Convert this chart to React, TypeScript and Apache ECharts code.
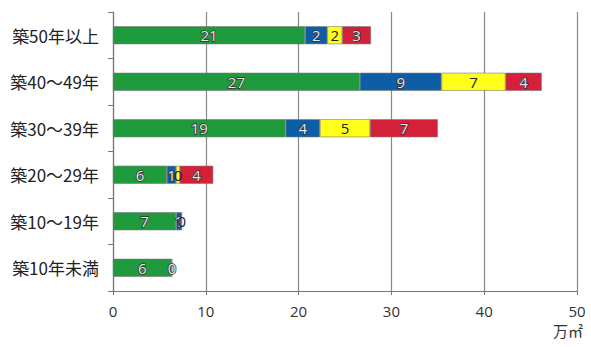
import React, { useEffect, useRef } from "react";
import * as echarts from "echarts";

const categories = ["築50年以上", "築40～49年", "築30～39年", "築20～29年", "築10～19年", "築10年未満"];
const green = [20.7, 26.6, 18.6, 5.8, 6.8, 6.3];
const blue = [2.4, 8.8, 3.7, 1.0, 0.6, 0.1];
const yellow = [1.6, 6.9, 5.4, 0.4, 0, null];
const red = [3.1, 3.9, 7.3, 3.6, null, null];
const unit = "万㎡";

export default function App() {
  const ref = useRef<HTMLDivElement>(null);
  useEffect(() => {
    const chart = echarts.init(ref.current!, null, { renderer: "svg" });
    const lightLabel = {
      show: true,
      position: "inside",
      fontSize: 15,
      fontFamily: "Open Sans",
      color: "#e6e6e6",
      textBorderColor: "#333",
      textBorderWidth: 1.5,
      formatter: (p: any) => String(Math.round(p.value)),
    };
    const darkLabel = { ...lightLabel, color: "#222", textBorderWidth: 0 };
    const mk = (name: string, data: any[], color: string, label: any) => ({
      name,
      type: "bar",
      stack: "a",
      data,
      barWidth: 18,
      itemStyle: { color, borderColor: "#777", borderWidth: 0.6 },
      label,
    });
    chart.setOption({
      animation: false,
      grid: { left: 113, right: 14, top: 12, bottom: 56 },
      xAxis: {
        type: "value",
        min: 0,
        max: 50,
        interval: 10,
        axisLine: { show: true, lineStyle: { color: "#777", width: 1.2 } },
        axisTick: { show: true, length: 4, lineStyle: { color: "#777" } },
        splitLine: { show: true, lineStyle: { color: "#888", width: 1.2 } },
        axisLabel: {
          fontSize: 15,
          color: "#333",
          fontFamily: "Open Sans",
          margin: 12,
        },
      },
      yAxis: {
        type: "category",
        inverse: true,
        data: categories,
        axisLine: { show: true, lineStyle: { color: "#777", width: 1.2 } },
        axisTick: { show: true, length: 5, lineStyle: { color: "#777" } },
        axisLabel: {
          fontSize: 17,
          color: "#222",
          fontFamily: "Noto Sans CJK JP",
          margin: 14,
        },
      },
      graphic: [
        {
          type: "text",
          left: 553,
          top: 323,
          style: { text: unit, fontSize: 15, fill: "#333", fontFamily: "Noto Sans CJK JP" },
        },
      ],
      series: [
        mk("緑", green, "#1f9a3c", lightLabel),
        mk("青", blue, "#0d5ea6", lightLabel),
        mk("黄", yellow, "#ffff1a", darkLabel),
        mk("赤", red, "#d5203a", lightLabel),
      ],
    });
    return () => chart.dispose();
  }, []);
  return (
    <div
      ref={ref}
      style={{ position: "absolute", left: 0, top: 0, width: 591, height: 347 }}
    />
  );
}
